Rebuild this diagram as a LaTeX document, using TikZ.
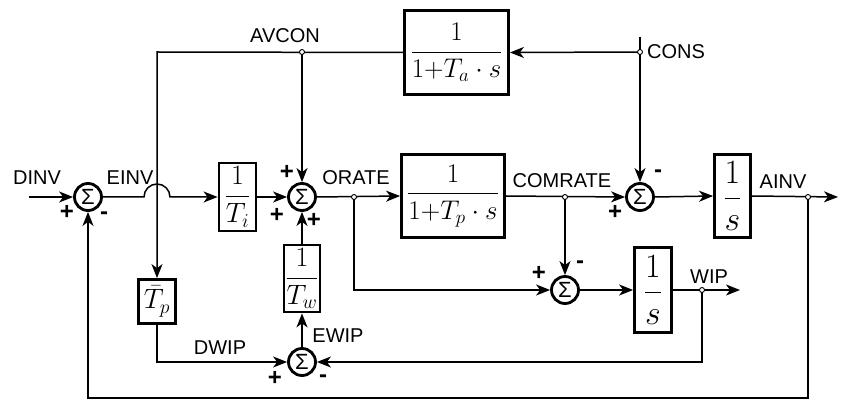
\RequirePackage{fix-cm}
\documentclass[tikz,border=0pt]{standalone}
\usepackage{amsmath}
\usepackage{fontspec}
\setmainfont{Liberation Sans}
\usetikzlibrary{arrows.meta}
\begin{document}
\begin{tikzpicture}[x=1pt,y=-1pt,
  lbl/.style={font=\fontsize{20}{22}\selectfont, inner sep=0pt},
  sgn/.style={font=\bfseries\fontsize{24}{26}\selectfont, inner sep=0pt},
  sumnode/.style={circle, draw, line width=2.8pt, minimum size=27pt, inner sep=0pt,
     font=\fontsize{22}{24}\selectfont, text depth=0pt},
  blk/.style={draw, line width=2.8pt, inner sep=0pt, font=\fontsize{27}{30}\selectfont},
  blksm/.style={blk, font=\fontsize{28}{31}\selectfont},
  blkbig/.style={blk, font=\fontsize{34}{38}\selectfont},
  conn/.style={line width=1.5pt},
  arr/.style={conn, -{Stealth[length=14pt,width=11pt,inset=4pt]}},
  junc/.style={circle, draw, fill=white, line width=0.9pt, minimum size=5pt, inner sep=0pt},
]
\useasboundingbox (0,0) rectangle (843,403);
% sums
\node[sumnode] (s1) at (88,197) {Σ};
\node[sumnode] (s2) at (302,197) {Σ};
\node[sumnode] (s4) at (640,197) {Σ};
\node[sumnode] (s3) at (565,290) {Σ};
\node[sumnode] (s5) at (302,362) {Σ};
% blocks
\node[blksm, minimum width=37pt, minimum height=68pt] (ti) at (237.5,197) {$\dfrac{1}{T_i}$};
\node[blk, minimum width=103pt, minimum height=83pt] (tp) at (453,196) {$\dfrac{1}{1{+}T_p\cdot s}$};
\node[blk, minimum width=104pt, minimum height=84pt] (ta) at (456.5,52.5) {$\dfrac{1}{1{+}T_a\cdot s}$};
\node[blkbig, minimum width=36pt, minimum height=83pt] (ia) at (732.5,196) {$\dfrac{1}{s}$};
\node[blkbig, minimum width=37pt, minimum height=85pt] (iw) at (653,290) {$\dfrac{1}{s}$};
\node[blksm, minimum width=36pt, minimum height=67pt] (tw) at (302,278.5) {$\dfrac{1}{T_w}$};
\node[blksm, minimum width=37pt, minimum height=44pt] (tb) at (157,301.5) {$\bar{T}_p$};
% coordinates
\coordinate (din) at (29,197);
\coordinate (jor) at (354,197);
\coordinate (jcom) at (565,197);
\coordinate (jain) at (808,197);
\coordinate (aout) at (838,197);
\coordinate (jwip) at (702,290);
\coordinate (wout) at (740,290);
\coordinate (jav) at (302,52);
\coordinate (jcons) at (640,52);
\coordinate (constop) at (640,37);
\coordinate (tl) at (157,52);
\coordinate (bl) at (88,398);
\coordinate (br) at (808,398);
\coordinate (dw) at (157,362);
\coordinate (wr) at (702,362);
\coordinate (orb) at (354,290);
% connectors
\draw[arr] (din) -- (s1.west);
\draw[arr] (s1.east) -- (144,197) arc[start angle=180, end angle=0, radius=13pt] -- (ti.west);
\draw[arr] (ti.east) -- (s2.west);
\draw[arr] (s2.east) -- (tp.west);
\draw[arr] (tp.east) -- (s4.west);
\draw[arr] (s4.east) -- (ia.west);
\draw[arr] (ia.east) -- (aout);
\draw[arr] (jain) -- (br) -- (bl) -- (s1.south);
\draw[arr] (jcom) -- (s3.north);
\draw[arr] (jor) -- (orb) -- (s3.west);
\draw[arr] (s3.east) -- (iw.west);
\draw[arr] (iw.east) -- (wout);
\draw[arr] (jwip) -- (wr) -- (s5.east);
\draw[arr] (s5.north) -- (tw.south);
\draw[arr] (tw.north) -- (s2.south);
\draw[arr] (tb.south) -- (dw) -- (s5.west);
\draw[arr] (ta.west) -- (tl) -- (tb.north);
\draw[arr] (jav) -- (s2.north);
\draw[arr] (jcons) -- (ta.east);
\draw[arr] (constop) -- (s4.north);
% junction dots
\foreach \j in {jor,jcom,jain,jwip,jav,jcons} \node[junc] at (\j) {};
% labels
\node[lbl] (lDINV) at (37,178) {DINV};
\node[lbl] (lEINV) at (130,178) {EINV};
\node[lbl] (lAVCON) at (285,36) {AVCON};
\node[lbl, anchor=west] (lCONS) at (647,52) {CONS};
\node[lbl] (lORATE) at (356,178) {ORATE};
\node[lbl] (lCOMRATE) at (562,181) {COMRATE};
\node[lbl] (lAINV) at (783,182) {AINV};
\node[lbl] (lWIP) at (709,277) {WIP};
\node[lbl] (lEWIP) at (338,336) {EWIP};
\node[lbl] (lDWIP) at (220,348) {DWIP};
% signs
\node[sgn] (p1) at (67,212) {+};
\node[sgn] (m1) at (104,216) {-};
\node[sgn] (p2a) at (287,172) {+};
\node[sgn] (p2b) at (277,215) {+};
\node[sgn] (p2c) at (314,220) {+};
\node[sgn] (m4) at (658,174) {-};
\node[sgn] (p4) at (615,212) {+};
\node[sgn] (p3) at (539,273) {+};
\node[sgn] (m3) at (580,265) {-};
\node[sgn] (p5) at (275,378) {+};
\node[sgn] (m5) at (323,379) {-};
\end{tikzpicture}
\end{document}
